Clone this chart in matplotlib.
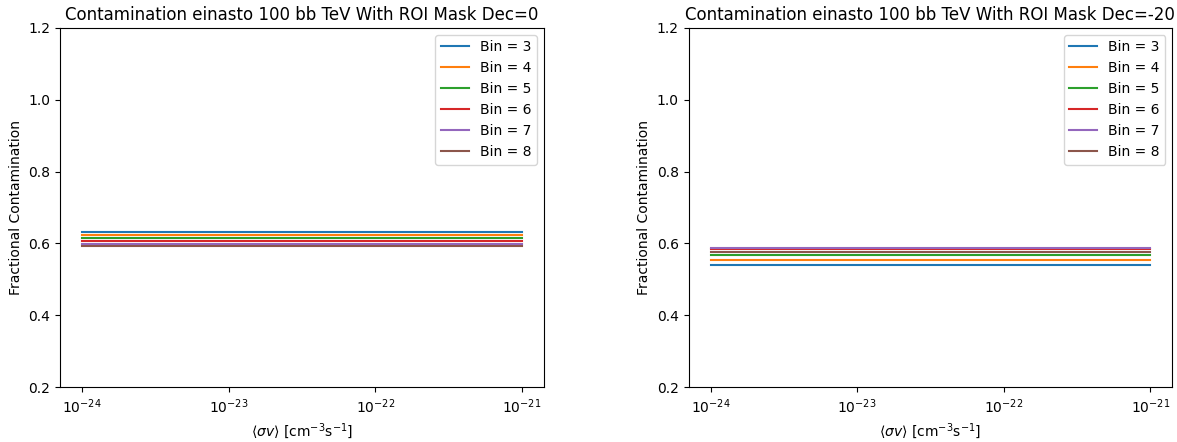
import matplotlib
matplotlib.use("Agg")
import matplotlib.pyplot as plt
from matplotlib.ticker import NullLocator

# cross sections (cm^3/s)
sigmav = [1e-24, 1e-23, 1e-22, 1e-21]

bins = [3, 4, 5, 6, 7, 8]

# fractional contamination per bin, flat across sigmav
contam_dec0 = [0.631, 0.624, 0.614, 0.606, 0.598, 0.592]
contam_dec20 = [0.541, 0.555, 0.567, 0.585, 0.588, 0.576]

titles = ["Contamination einasto 100 bb TeV With ROI Mask Dec=0",
          "Contamination einasto 100 bb TeV With ROI Mask Dec=-20"]

fig = plt.figure(figsize=(11.77, 4.42), dpi=100)
ax1 = fig.add_axes([0.051, 0.124, 0.411, 0.813])
ax2 = fig.add_axes([0.585, 0.124, 0.411, 0.813])

for ax, vals, title in zip([ax1, ax2], [contam_dec0, contam_dec20], titles):
    for b, v in zip(bins, vals):
        ax.plot(sigmav, [v] * len(sigmav), label="Bin = %d" % b)
    ax.set_xscale("log")
    ax.xaxis.set_minor_locator(NullLocator())
    ax.set_ylim(0.2, 1.2)
    ax.set_title(title, fontsize=12)
    ax.set_xlabel(r"$\langle\sigma v\rangle$ [cm$^{-3}$s$^{-1}$]")
    ax.set_ylabel("Fractional Contamination")
    ax.legend(loc="upper right")

fig.savefig("out.png", dpi=100)
